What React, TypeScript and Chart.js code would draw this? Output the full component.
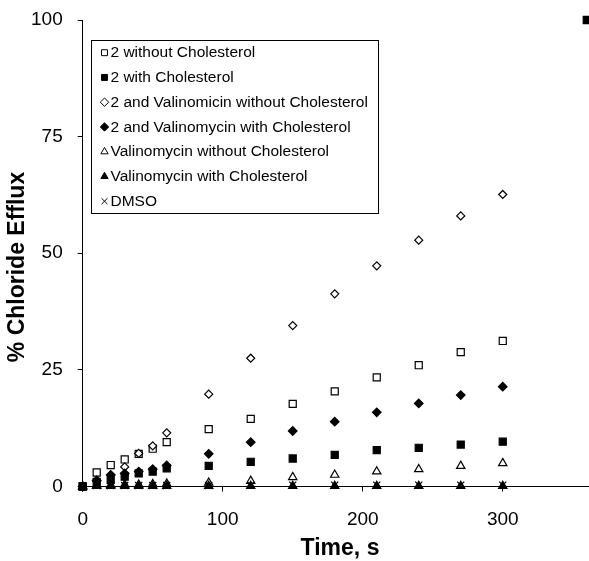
import React, { useEffect, useRef } from 'react';
import { Chart, registerables } from 'chart.js';
import { drawPoint } from 'chart.js/helpers';

Chart.register(...registerables);

// Time points (s)
const times = [0, 10, 20, 30, 40, 50, 60, 90, 120, 150, 180, 210, 240, 270, 300];

// % chloride efflux per series
const s2NoChol = [0, 3.0, 4.6, 5.8, 7.0, 8.1, 9.5, 12.3, 14.5, 17.7, 20.4, 23.4, 26.0, 28.8, 31.2];
const s2Chol = [0, 1.0, 1.4, 2.1, 2.8, 3.2, 3.9, 4.4, 5.3, 6.0, 6.8, 7.8, 8.3, 9.0, 9.6];
const s2CholFinalTime = 360;
const s2CholFinal = 100;
const s2ValNoChol = [0, 1.2, 2.4, 4.2, 7.1, 8.7, 11.5, 19.8, 27.5, 34.5, 41.3, 47.3, 52.8, 58.0, 62.6];
const s2ValChol = [0, 1.3, 2.5, 2.8, 3.2, 3.7, 4.5, 7.0, 9.5, 11.9, 13.9, 15.9, 17.8, 19.6, 21.4];
const valNoChol = [0, 0.2, 0.3, 0.4, 0.4, 0.5, 0.6, 0.8, 1.2, 2.0, 2.5, 3.2, 3.7, 4.4, 5.0];
const valChol = [0, 0.1, 0.1, 0.1, 0.1, 0.1, 0.1, 0.1, 0.1, 0.1, 0.1, 0.1, 0.1, 0.1, 0.1];
const dmso = [0, 0.2, 0.2, 0.2, 0.2, 0.2, 0.2, 0.2, 0.3, 0.3, 0.3, 0.3, 0.3, 0.3, 0.3];

const labels = [
  '2 without Cholesterol',
  '2 with Cholesterol',
  '2 and Valinomicin without Cholesterol',
  '2 and Valinomycin with Cholesterol',
  'Valinomycin without Cholesterol',
  'Valinomycin with Cholesterol',
  'DMSO',
];

const xTitle = 'Time, s';
const yTitle = '% Chloride Efflux';

const xTicksStep = 100;
const yTicksStep = 25;

const FONT = "'Liberation Sans', Arial, Helvetica, sans-serif";

const toPts = (arr: number[]) => times.map((t, i) => ({ x: t, y: arr[i] }));

const legendRadius = [4.2, 4.2, 4.2, 4.2, 4.2, 4.2, 4.2];

const boxLegend = {
  id: 'boxLegend',
  afterDraw(chart: any) {
    const ctx = chart.ctx as CanvasRenderingContext2D;
    ctx.save();
    ctx.strokeStyle = '#000';
    ctx.lineWidth = 1;
    ctx.strokeRect(91.5, 40.5, 287, 173);
    chart.data.datasets.forEach((ds: any, i: number) => {
      const y = 52.7 + i * 24.75;
      ctx.fillStyle = ds.backgroundColor;
      ctx.strokeStyle = ds.borderColor;
      ctx.lineWidth = 1;
      drawPoint(ctx, { pointStyle: ds.pointStyle, radius: legendRadius[i], borderWidth: 1, rotation: 0 } as any, 104.5, y);
      ctx.fillStyle = '#000';
      ctx.font = `15.5px ${FONT}`;
      ctx.textBaseline = 'middle';
      ctx.textAlign = 'left';
      ctx.fillText(ds.label, 110.5, y + 0.5);
    });
    ctx.restore();
  },
};

const axisTitles = {
  id: 'axisTitles',
  afterDraw(chart: any) {
    const ctx = chart.ctx as CanvasRenderingContext2D;
    ctx.save();
    ctx.fillStyle = '#000';
    ctx.font = `bold 23px ${FONT}`;
    ctx.textAlign = 'center';
    ctx.textBaseline = 'middle';
    ctx.fillText(xTitle, 340, 549);
    ctx.translate(18, 267);
    ctx.rotate(-Math.PI / 2);
    ctx.fillText(yTitle, 0, 0);
    ctx.restore();
  },
};

export default function App() {
  const ref = useRef<HTMLCanvasElement>(null);

  useEffect(() => {
    if (!ref.current) return;
    const common = { showLine: false, clip: false as any, borderWidth: 1.2 };
    const chart = new Chart(ref.current, {
      type: 'scatter',
      data: {
        datasets: [
          { ...common, label: labels[0], data: toPts(s2NoChol), pointStyle: 'rect', pointRadius: 5, backgroundColor: '#fff', borderColor: '#000', order: 7 },
          { ...common, label: labels[1], data: [...toPts(s2Chol), { x: s2CholFinalTime, y: s2CholFinal }], pointStyle: 'rect', pointRadius: 5, backgroundColor: '#000', borderColor: '#000', order: 6 },
          { ...common, label: labels[2], data: toPts(s2ValNoChol), pointStyle: 'rectRot', pointRadius: 4, backgroundColor: '#fff', borderColor: '#000', order: 5 },
          { ...common, label: labels[3], data: toPts(s2ValChol), pointStyle: 'rectRot', pointRadius: 4.3, backgroundColor: '#000', borderColor: '#000', order: 4 },
          { ...common, label: labels[4], data: toPts(valNoChol), pointStyle: 'triangle', pointRadius: 4.8, backgroundColor: '#fff', borderColor: '#000', order: 3 },
          { ...common, label: labels[5], data: toPts(valChol), pointStyle: 'triangle', pointRadius: 4.8, backgroundColor: '#000', borderColor: '#000', order: 2 },
          { ...common, label: labels[6], data: toPts(dmso), pointStyle: 'crossRot', pointRadius: 5, backgroundColor: '#000', borderColor: '#000', order: 1 },
        ],
      },
      options: {
        animation: false,
        responsive: false,
        maintainAspectRatio: false,
        layout: { autoPadding: false, padding: { top: 20, left: 0, right: 0, bottom: 0 } },
        plugins: { legend: { display: false }, tooltip: { enabled: false } },
        scales: {
          x: {
            type: 'linear',
            min: 0,
            max: 361.6,
            afterFit: (s: any) => { s.height = 74.5; s.paddingRight = 0; s.paddingLeft = 0; },
            ticks: { stepSize: xTicksStep, includeBounds: false, color: '#000', font: { family: FONT, size: 19 }, padding: 17, maxRotation: 0 },
            grid: { drawOnChartArea: false, tickLength: 5, color: '#000', tickColor: '#000' },
            border: { color: '#000', width: 1 },
            title: { display: false, text: xTitle },
          },
          y: {
            type: 'linear',
            min: 0,
            max: 100,
            afterFit: (s: any) => { s.width = 82.7; s.paddingTop = 0; s.paddingBottom = 0; },
            ticks: { stepSize: yTicksStep, color: '#000', font: { family: FONT, size: 19 }, padding: 15 },
            grid: { drawOnChartArea: false, tickLength: 5, color: '#000', tickColor: '#000' },
            border: { color: '#000', width: 1 },
            title: { display: false, text: yTitle },
          },
        },
      },
      plugins: [boxLegend, axisTitles],
    });
    return () => chart.destroy();
  }, []);

  return (
    <div style={{ position: 'fixed', left: 0, top: 0, width: 589, height: 561, background: '#fff' }}>
      <canvas ref={ref} width={589} height={561} />
    </div>
  );
}
